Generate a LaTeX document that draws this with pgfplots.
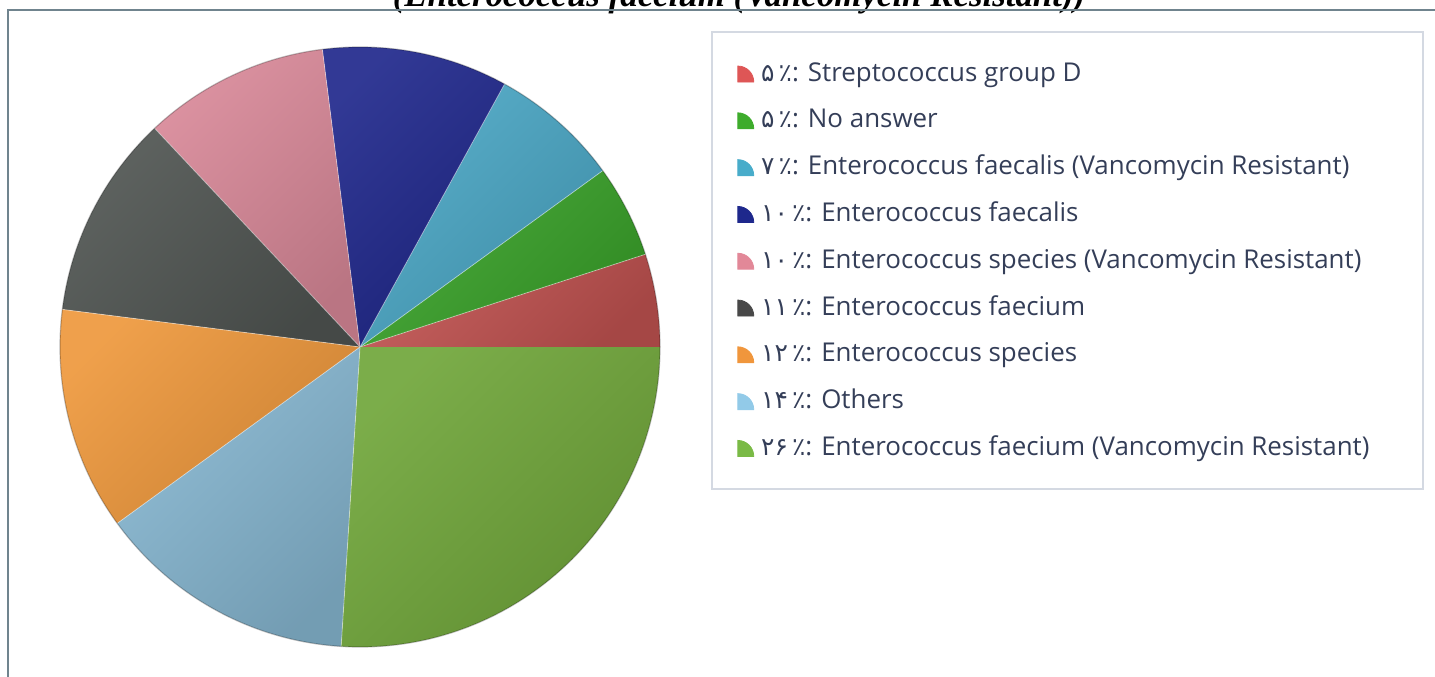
\documentclass[border=0pt]{standalone}
\usepackage{pgfplots}
\pgfplotsset{compat=1.18}
\usepackage{fontspec}
\setmainfont{Open Sans}
\newfontfamily\fa{DejaVu Sans}
\newfontfamily\titlefont{Liberation Serif}
\definecolor{cRed}{RGB}{192,82,80}
\definecolor{cGreen}{RGB}{58,162,42}
\definecolor{cTeal}{RGB}{74,166,196}
\definecolor{cNavy}{RGB}{32,40,140}
\definecolor{cPink}{RGB}{216,136,152}
\definecolor{cGrey}{RGB}{80,85,82}
\definecolor{cOrange}{RGB}{238,152,60}
\definecolor{cLBlue}{RGB}{134,182,208}
\definecolor{cBGreen}{RGB}{112,166,58}
\definecolor{lRed}{RGB}{222,86,86}
\definecolor{lGreen}{RGB}{62,172,44}
\definecolor{lTeal}{RGB}{72,172,202}
\definecolor{lNavy}{RGB}{30,40,140}
\definecolor{lPink}{RGB}{226,136,152}
\definecolor{lGrey}{RGB}{72,72,72}
\definecolor{lOrange}{RGB}{240,150,60}
\definecolor{lLBlue}{RGB}{146,202,232}
\definecolor{lBGreen}{RGB}{122,186,70}
\definecolor{txt}{RGB}{52,62,88}
\definecolor{frame}{RGB}{112,132,142}
\definecolor{lframe}{RGB}{212,217,226}
% slice: start (cumulative %), share (%), colour
\newcommand\slice[3]{%
  \shade[top color=#3!92!white, bottom color=#3!86!black, shading angle=45]
    (axis cs:0,0) -- (axis cs:{cos(#1*3.6)},{sin(#1*3.6)})
    arc[start angle={#1*3.6}, end angle={(#1+#2)*3.6}, radius=150bp] -- cycle;
  \draw[white, opacity=0.45, line width=0.4bp]
    (axis cs:0,0) -- (axis cs:{cos(#1*3.6)},{sin(#1*3.6)});}
\newcommand\per[1]{{\fa\fontsize{12.5}{12.5}\selectfont #1\,٪}}
\begin{document}
\begin{tikzpicture}
\path[use as bounding box] (0,0) rectangle (717.5bp,-338.5bp);
\node[anchor=base, font=\titlefont\bfseries\itshape\fontsize{17.5}{20}\selectfont] at (369.5bp,-3.35bp)
  {(Enterococcus faecium (Vancomycin Resistant))};
\draw[frame, line width=1bp] (3.75bp,-338.5bp) -- (3.75bp,-4.75bp) -- (717.5bp,-4.75bp);
\draw[lframe, line width=0.6bp] (356bp,-16bp) rectangle (711.5bp,-244.5bp);
\begin{axis}[
  at={(180bp,-173.5bp)}, anchor=center,
  scale only axis, width=300bp, height=300bp,
  xmin=-1, xmax=1, ymin=-1, ymax=1,
  hide axis, clip=false,
  legend image code/.code={\fill (0bp,-4bp) -- (8bp,-4bp) arc[start angle=0, end angle=90, radius=8bp] -- cycle;},
  legend cell align=left,
  legend style={draw=none, fill=none, at={(1.1283,0.9773)}, anchor=north west,
    inner sep=0pt, row sep=10.4bp, column sep=3.5bp,
    font=\fontsize{13}{15}\selectfont, text=txt,
    nodes={inner sep=0pt, text height=10bp, text depth=3bp}},
]
\slice{0}{5}{cRed}
\slice{5}{5}{cGreen}
\slice{10}{7}{cTeal}
\slice{17}{10}{cNavy}
\slice{27}{10}{cPink}
\slice{37}{11}{cGrey}
\slice{48}{12}{cOrange}
\slice{60}{14}{cLBlue}
\slice{74}{26}{cBGreen}
\draw[black, opacity=0.25, line width=0.6bp] (axis cs:0,0) circle[radius=150bp];
\addlegendimage{lRed, fill=lRed}
\addlegendentry{\per{۵}: Streptococcus group D}
\addlegendimage{lGreen, fill=lGreen}
\addlegendentry{\per{۵}: No answer}
\addlegendimage{lTeal, fill=lTeal}
\addlegendentry{\per{۷}: Enterococcus faecalis (Vancomycin Resistant)}
\addlegendimage{lNavy, fill=lNavy}
\addlegendentry{\per{۱۰}: Enterococcus faecalis}
\addlegendimage{lPink, fill=lPink}
\addlegendentry{\per{۱۰}: Enterococcus species (Vancomycin Resistant)}
\addlegendimage{lGrey, fill=lGrey}
\addlegendentry{\per{۱۱}: Enterococcus faecium}
\addlegendimage{lOrange, fill=lOrange}
\addlegendentry{\per{۱۲}: Enterococcus species}
\addlegendimage{lLBlue, fill=lLBlue}
\addlegendentry{\per{۱۴}: Others}
\addlegendimage{lBGreen, fill=lBGreen}
\addlegendentry{\per{۲۶}: Enterococcus faecium (Vancomycin Resistant)}
\end{axis}
\end{tikzpicture}
\end{document}
